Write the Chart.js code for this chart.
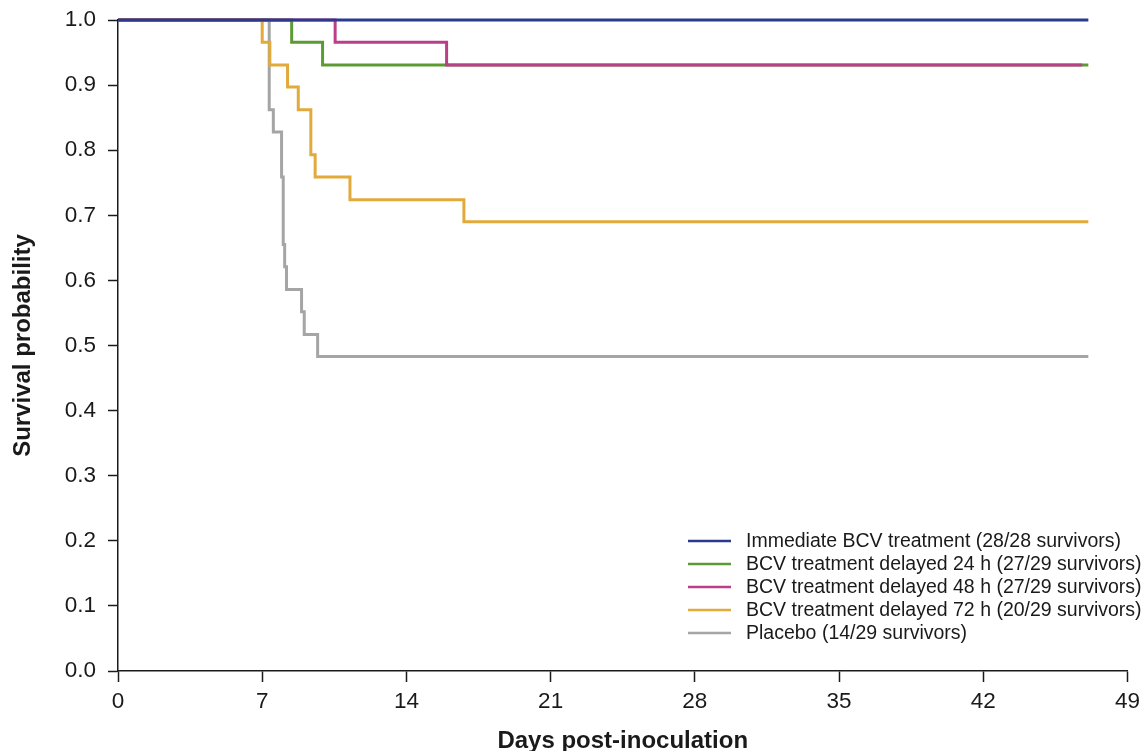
<!DOCTYPE html>
<html>
<head>
<meta charset="utf-8">
<script src="https://cdn.jsdelivr.net/npm/chart.js@4.4.1/dist/chart.umd.min.js"></script>
<style>
  html, body { margin: 0; padding: 0; background: #fff; }
  canvas { display: block; }
</style>
</head>
<body>
<canvas id="survival-chart" width="1146" height="751"></canvas>
<script>
// Kaplan-Meier curves, days post-inoculation vs survival probability
const seriesLabels = [
    "Immediate BCV treatment (28/28 survivors)",
    "BCV treatment delayed 24 h (27/29 survivors)",
    "BCV treatment delayed 48 h (27/29 survivors)",
    "BCV treatment delayed 72 h (20/29 survivors)",
    "Placebo (14/29 survivors)"
];
const seriesColors = ["#2b3a8e", "#5e9a34", "#bb3f88", "#e2aa3b", "#a5a5a5"];

const immediateDays = [0, 47.1];
const immediateSurv = [1, 1];

const delay24Days = [0, 8.43, 9.93, 47.1];
const delay24Surv = [1, 0.966, 0.931, 0.931];

const delay48Days = [0, 10.54, 15.95, 46.8];
const delay48Surv = [1, 0.966, 0.931, 0.931];

const delay72Days = [0, 7.0, 7.37, 8.23, 8.75, 9.36, 9.57, 11.26, 16.79, 47.1];
const delay72Surv = [1, 0.966, 0.931, 0.897, 0.862, 0.793, 0.759, 0.724, 0.690, 0.690];

const placeboDays = [0, 7.34, 7.54, 7.94, 8.02, 8.09, 8.18, 8.91, 9.04, 9.69, 47.1];
const placeboSurv = [1, 0.862, 0.828, 0.759, 0.655, 0.621, 0.586, 0.552, 0.517, 0.483, 0.483];

const xTicks = [0, 7, 14, 21, 28, 35, 42, 49];
const yTicks = [0, 0.1, 0.2, 0.3, 0.4, 0.5, 0.6, 0.7, 0.8, 0.9, 1.0];

const allDays = [immediateDays, delay24Days, delay48Days, delay72Days, placeboDays];
const allSurv = [immediateSurv, delay24Surv, delay48Surv, delay72Surv, placeboSurv];
// which curve sits on top: blue, then magenta over green
const drawOrder = [0, 2, 1, 3, 4];

function toPoints(days, surv) {
    return days.map((d, i) => ({ x: d, y: surv[i] }));
}

const datasets = seriesLabels.map((label, i) => ({
    label: label,
    data: toPoints(allDays[i], allSurv[i]),
    borderColor: seriesColors[i],
    borderWidth: 3,
    stepped: "before",
    pointRadius: 0,
    fill: false,
    clip: false,
    order: drawOrder[i]
}));

// legend inside the plot, lower right
const insideLegend = {
    id: "insideLegend",
    afterDraw(chart) {
        const ctx = chart.ctx;
        const x0 = 688, lineLen = 43, textX = 746, y0 = 541, rowH = 23;
        ctx.save();
        ctx.font = "19.5px 'Liberation Sans', Arial, sans-serif";
        ctx.textBaseline = "middle";
        ctx.fillStyle = "#1a1a1a";
        seriesLabels.forEach((label, i) => {
            const y = y0 + i * rowH;
            ctx.strokeStyle = seriesColors[i];
            ctx.lineWidth = 2.5;
            ctx.beginPath();
            ctx.moveTo(x0, y);
            ctx.lineTo(x0 + lineLen, y);
            ctx.stroke();
            ctx.fillText(label, textX, y + 1);
        });
        ctx.restore();
    }
};

const tickFont = { family: "'Liberation Sans', Arial, sans-serif", size: 22.5 };
const titleFont = { family: "'Liberation Sans', Arial, sans-serif", size: 24, weight: "bold" };

new Chart(document.getElementById("survival-chart"), {
    type: "line",
    data: { datasets: datasets },
    plugins: [insideLegend],
    options: {
        responsive: false,
        animation: false,
        layout: { padding: { top: 20, right: 18, left: 0, bottom: 0 } },
        plugins: {
            legend: { display: false },
            tooltip: { enabled: false }
        },
        scales: {
            x: {
                type: "linear",
                min: 0,
                max: 49,
                afterBuildTicks: (scale) => { scale.ticks = xTicks.map(v => ({ value: v })); },
                afterFit: (scale) => { scale.height = 80; },
                grid: { display: true, drawOnChartArea: false, drawTicks: true, tickLength: 11, tickColor: "#1a1a1a", tickWidth: 1.5 },
                border: { display: true, color: "#1a1a1a", width: 1.5 },
                ticks: { color: "#1a1a1a", font: tickFont, padding: 6, maxRotation: 0 },
                title: { display: true, text: "Days post-inoculation", color: "#1a1a1a", font: { ...titleFont, lineHeight: 0.8 }, padding: { top: 0, bottom: 0 } }
            },
            y: {
                min: 0,
                max: 1,
                afterBuildTicks: (scale) => { scale.ticks = yTicks.map(v => ({ value: v })); },
                afterFit: (scale) => { scale.width = 118; scale.paddingTop = 0; scale.paddingBottom = 0; },
                grid: { display: true, drawOnChartArea: false, drawTicks: true, tickLength: 10, tickColor: "#1a1a1a", tickWidth: 1.5 },
                border: { display: true, color: "#1a1a1a", width: 1.5 },
                ticks: { color: "#1a1a1a", font: tickFont, padding: 12, callback: (v) => v.toFixed(1) },
                title: { display: true, text: "Survival probability", color: "#1a1a1a", font: titleFont, padding: { top: 9, bottom: 0 } }
            }
        }
    }
});
</script>
</body>
</html>
